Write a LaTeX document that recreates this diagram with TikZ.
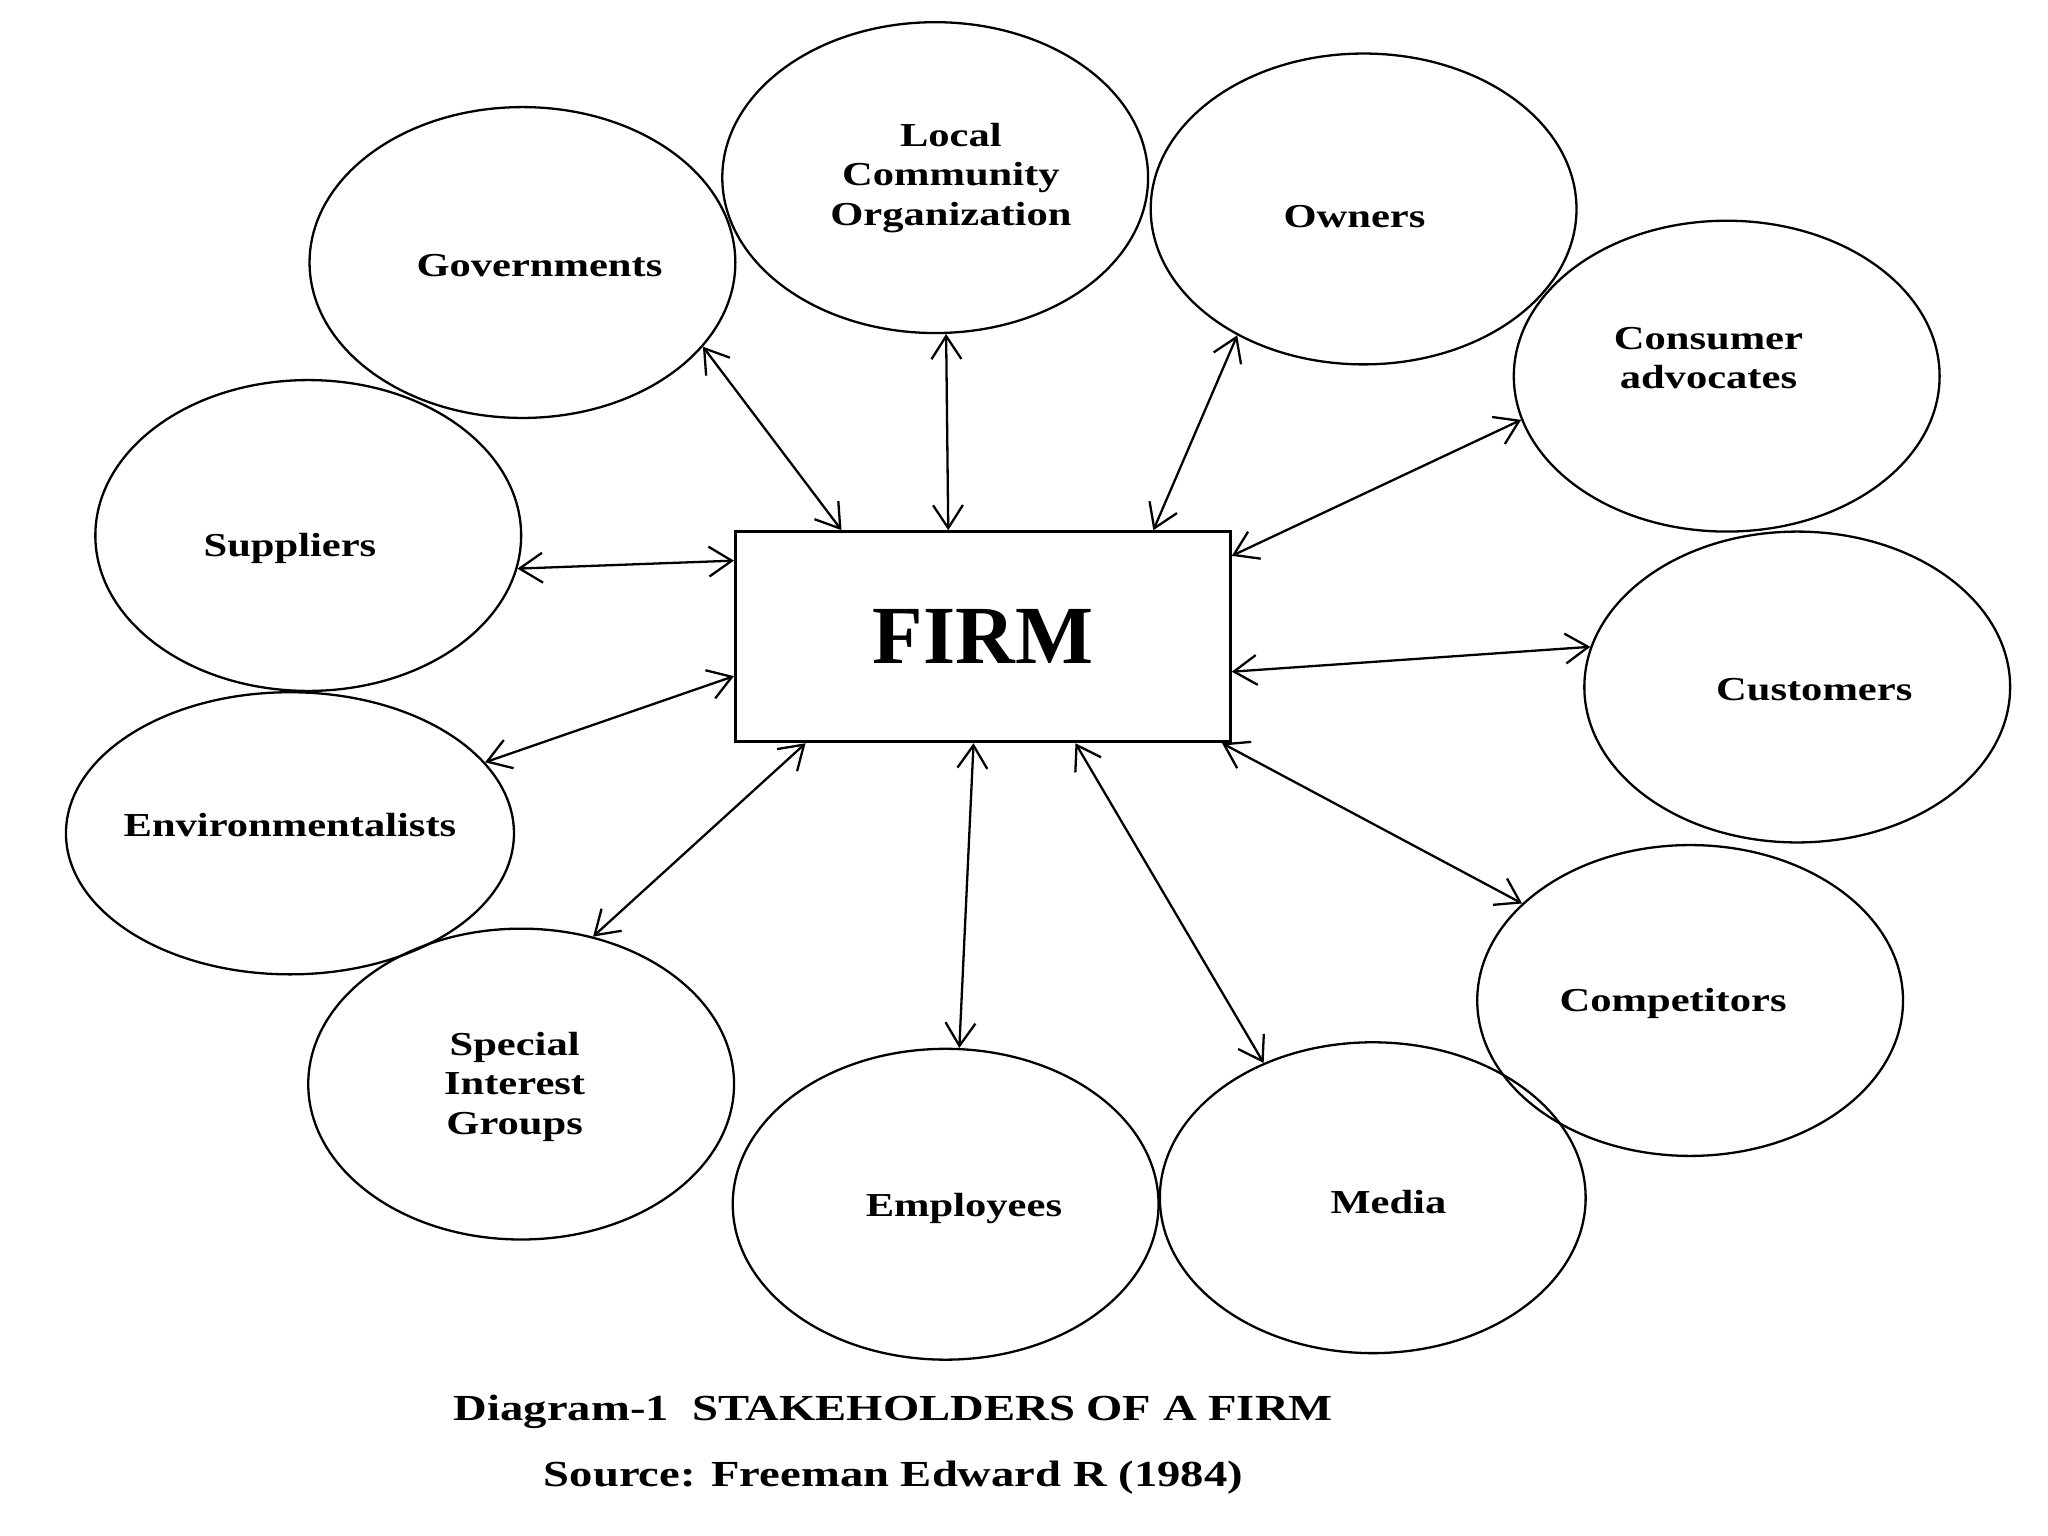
\documentclass[tikz,border=0pt]{standalone}
\usepackage{fontspec}
\setmainfont{Liberation Serif}
\newfontfamily\lblfont[FakeStretch=1.27]{Liberation Serif}
\usepackage{tikz}
\usetikzlibrary{arrows.meta,positioning,shapes.geometric}

\begin{document}
\begin{tikzpicture}[
	holder/.style={ellipse,draw=black,line width=0.5pt,minimum width=3.26cm,minimum height=2.38cm,inner sep=0pt},
	lbl/.style={align=center,inner sep=0pt,font=\lblfont\bfseries\fontsize{7.3}{8.6}\selectfont},
	firmbox/.style={rectangle,draw=black,line width=0.6pt,minimum width=3.79cm,minimum height=1.61cm,font=\bfseries\fontsize{18}{20}\selectfont},
	arr/.style={{Straight Barb[length=5pt,width=6.5pt]}-{Straight Barb[length=5pt,width=6.5pt]},line width=0.5pt},
	capt/.style={font=\lblfont\bfseries\fontsize{8}{10}\selectfont}
	]
	\useasboundingbox (0,0) rectangle (15.68,-11.76);
	\node[firmbox] (firm) at (7.525,-4.875) {FIRM};
	% stakeholders round the firm
	\node[holder,label={[lbl,xshift=1.3mm,yshift=-0.2mm]center:Governments}] (gov) at (4.00,-2.01) {};
	\node[holder,label={[lbl,xshift=1.2mm]center:Local\\Community\\Organization}] (loc) at (7.16,-1.36) {};
	\node[holder,label={[lbl,xshift=-0.7mm,yshift=-0.6mm]center:Owners}] (own) at (10.44,-1.60) {};
	\node[holder,label={[lbl,xshift=-1.4mm,yshift=1.4mm]center:Consumer\\advocates}] (cadv) at (13.22,-2.88) {};
	\node[holder,label={[lbl,xshift=-1.4mm,yshift=-1.0mm]center:Suppliers}] (sup) at (2.36,-4.10) {};
	\node[holder,label={[lbl,xshift=1.3mm,yshift=-0.2mm]center:Customers}] (cust) at (13.76,-5.26) {};
	\node[holder,minimum width=3.43cm,minimum height=2.16cm,label={[lbl,yshift=0.6mm]center:Environmentalists}] (env) at (2.22,-6.38) {};
	\node[holder,label={[lbl,xshift=-1.3mm,yshift=-0.2mm]center:Competitors}] (comp) at (12.94,-7.66) {};
	\node[holder,label={[lbl,xshift=-0.5mm,yshift=-0.2mm]center:Special\\Interest\\Groups}] (sig) at (3.99,-8.30) {};
	\node[holder,label={[lbl,xshift=1.4mm,yshift=-0.3mm]center:Employees}] (emp) at (7.24,-9.22) {};
	\node[holder,label={[lbl,xshift=1.2mm,yshift=-0.3mm]center:Media}] (med) at (10.51,-9.17) {};
	% two-way links
	\draw[arr] (gov.-25) -- (firm.143);
	\draw[arr] (loc.-86) -- (firm.108);
	\draw[arr] (own.-135) -- (firm.32);
	\draw[arr] (cadv.192) -- (firm.18);
	\draw[arr] (sup.-9) -- (firm.163);
	\draw[arr] (cust.169) -- (firm.-8);
	\draw[arr] (env.20) -- (firm.189);
	\draw[arr] (comp.150) -- (firm.-24);
	\draw[arr] (sig.64) -- (firm.-149);
	\draw[arr] (emp.85) -- (firm.-95);
	\draw[arr] (med.129) -- (firm.-49);
	% caption
	\node[capt] (cap) at (6.84,-10.81) {Diagram-1\ \ STAKEHOLDERS OF A FIRM};
	\node[capt] (src) at (6.84,-11.31) {Source: Freeman Edward R (1984)};
\end{tikzpicture}
\end{document}
